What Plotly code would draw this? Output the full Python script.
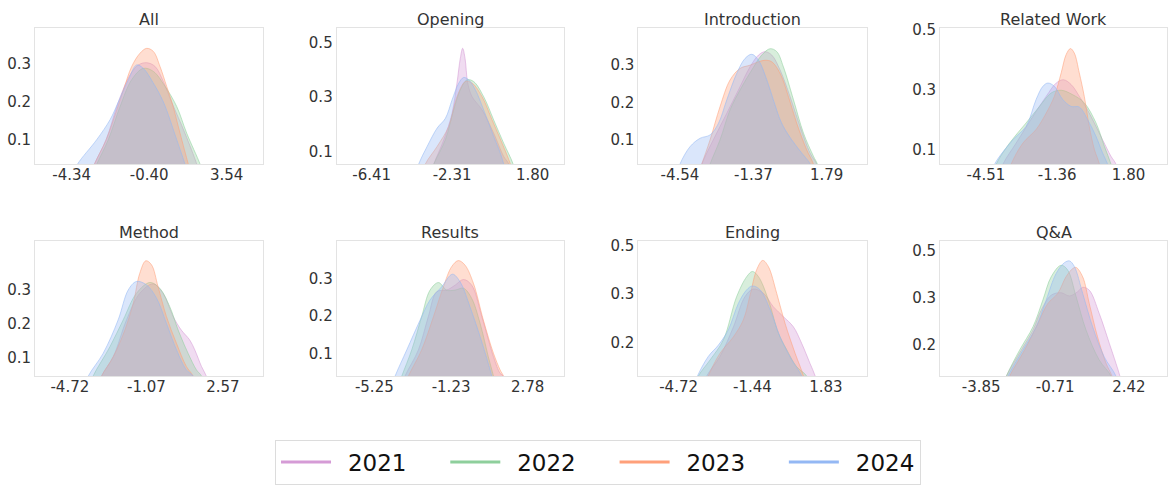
import plotly.graph_objects as go

# ---------------- data ----------------
years = ["2021", "2022", "2023", "2024"]
colors = ["#D59BD6", "#8ECF9C", "#FFA07A", "#94B8F4"]
titles = ["All", "Opening", "Introduction", "Related Work",
          "Method", "Results", "Ending", "Q&A"]

x_tickvals = [[-4.34, -0.40, 3.54], [-6.41, -2.31, 1.80], [-4.54, -1.37, 1.79], [-4.51, -1.36, 1.80],
              [-4.72, -1.07, 2.57], [-5.25, -1.23, 2.78], [-4.72, -1.44, 1.83], [-3.85, -0.71, 2.42]]
x_ticktext = [["-4.34", "-0.40", "3.54"], ["-6.41", "-2.31", "1.80"], ["-4.54", "-1.37", "1.79"],
              ["-4.51", "-1.36", "1.80"], ["-4.72", "-1.07", "2.57"], ["-5.25", "-1.23", "2.78"],
              ["-4.72", "-1.44", "1.83"], ["-3.85", "-0.71", "2.42"]]
x_ranges = [[-6.21, 5.39], [-8.19, 3.41], [-6.34, 3.52], [-6.54, 3.50],
            [-6.38, 4.48], [-7.22, 4.70], [-6.51, 3.64], [-5.60, 4.04]]
y_tickvals = [[0.1, 0.2, 0.3], [0.1, 0.3, 0.5], [0.1, 0.2, 0.3], [0.1, 0.3, 0.5],
              [0.1, 0.2, 0.3], [0.1, 0.2, 0.3], [0.18, 0.32, 0.46], [0.20, 0.33, 0.46]]
y_ticktext = [["0.1", "0.2", "0.3"], ["0.1", "0.3", "0.5"], ["0.1", "0.2", "0.3"], ["0.1", "0.3", "0.5"],
              ["0.1", "0.2", "0.3"], ["0.1", "0.2", "0.3"], ["0.2", "0.3", "0.5"], ["0.2", "0.3", "0.5"]]
y_ranges = [[0.0355, 0.396], [0.053, 0.556], [0.035, 0.3995], [0.052, 0.5056],
            [0.045, 0.443], [0.042, 0.3996], [0.0825, 0.474], [0.1125, 0.487]]

# density curves: (x values, density values) per year
all_curves = {
    "2021": ([-3.41, -3.19, -2.59, -1.97, -1.37, -0.95, -0.53, -0.10, 0.32, 0.74, 1.42, 2.02, 2.19],
             [0.003, 0.035, 0.100, 0.200, 0.272, 0.298, 0.304, 0.294, 0.254, 0.200, 0.117, 0.035, 0.003]),
    "2022": ([-3.32, -3.07, -2.48, -1.88, -1.29, -0.70, -0.19, 0.41, 1.00, 1.51, 2.19, 2.39],
             [0.003, 0.035, 0.100, 0.188, 0.259, 0.289, 0.281, 0.241, 0.188, 0.117, 0.035, 0.003]),
    "2023": ([-3.41, -3.19, -2.59, -2.05, -1.68, -1.29, -0.87, -0.53, -0.19, 0.15, 0.49, 0.75, 1.17, 1.59, 1.76],
             [0.003, 0.035, 0.100, 0.179, 0.237, 0.294, 0.329, 0.342, 0.334, 0.294, 0.241, 0.200, 0.117, 0.035, 0.003]),
    "2024": ([-4.34, -4.05, -3.07, -2.39, -1.97, -1.46, -1.04, -0.70, -0.19, 0.32, 1.00, 1.42, 1.59],
             [0.003, 0.035, 0.100, 0.153, 0.200, 0.259, 0.298, 0.289, 0.250, 0.200, 0.100, 0.035, 0.003]),
}
opening_curves = {
    "2021": ([-3.50, -3.24, -2.73, -2.31, -2.06, -1.89, -1.77, -1.65, -1.51, -1.29, -0.78, -0.19, 0.32, 0.58, 0.75],
             [-0.005, 0.053, 0.143, 0.241, 0.352, 0.444, 0.481, 0.444, 0.352, 0.302, 0.253, 0.167, 0.081, 0.053, -0.005]),
    "2022": ([-3.50, -3.24, -2.65, -2.23, -1.89, -1.55, -1.21, -0.70, -0.19, 0.32, 0.80, 1.00],
             [-0.005, 0.053, 0.143, 0.253, 0.327, 0.364, 0.358, 0.302, 0.216, 0.130, 0.053, -0.005]),
    "2023": ([-3.92, -3.67, -3.07, -2.48, -2.06, -1.63, -1.29, -0.78, -0.27, 0.24, 0.66, 0.87],
             [-0.005, 0.053, 0.118, 0.192, 0.302, 0.358, 0.352, 0.302, 0.216, 0.130, 0.053, -0.005]),
    "2024": ([-4.26, -4.01, -3.58, -3.07, -2.65, -2.31, -1.97, -1.72, -1.46, -1.12, -0.70, -0.19, 0.15, 0.32, 0.49],
             [-0.005, 0.053, 0.118, 0.186, 0.222, 0.290, 0.352, 0.373, 0.364, 0.327, 0.253, 0.155, 0.093, 0.053, -0.005]),
}
intro_curves = {
    "2021": ([-3.82, -3.60, -3.10, -2.52, -2.02, -1.51, -1.15, -0.87, -0.58, -0.22, 0.21, 0.64, 1.08, 1.36, 1.54],
             [-0.007, 0.035, 0.100, 0.171, 0.233, 0.296, 0.327, 0.336, 0.327, 0.287, 0.216, 0.136, 0.064, 0.035, -0.007]),
    "2022": ([-3.46, -3.24, -2.81, -2.38, -1.95, -1.44, -1.01, -0.65, -0.36, -0.08, 0.36, 0.79, 1.22, 1.39, 1.58],
             [-0.007, 0.035, 0.100, 0.180, 0.233, 0.287, 0.327, 0.344, 0.336, 0.296, 0.207, 0.118, 0.056, 0.035, -0.007]),
    "2023": ([-3.82, -3.60, -3.24, -2.81, -2.38, -1.95, -1.51, -1.15, -0.87, -0.58, -0.22, 0.14, 0.50, 0.93, 1.22, 1.39],
             [-0.007, 0.035, 0.100, 0.189, 0.260, 0.291, 0.300, 0.309, 0.313, 0.309, 0.278, 0.216, 0.144, 0.073, 0.035, -0.007]),
    "2024": ([-4.75, -4.54, -4.10, -3.67, -3.24, -2.88, -2.52, -2.09, -1.73, -1.44, -1.15, -0.79, -0.51, -0.15, 0.28, 0.72, 1.08, 1.29],
             [-0.007, 0.035, 0.082, 0.104, 0.113, 0.144, 0.207, 0.278, 0.318, 0.329, 0.313, 0.260, 0.207, 0.144, 0.100, 0.064, 0.035, -0.007]),
}
related_curves = {
    "2021": ([-3.97, -3.75, -3.17, -2.43, -1.84, -1.40, -1.08, -0.74, -0.38, 0.06, 0.65, 1.02, 1.24, 1.42],
             [0.000, 0.052, 0.122, 0.211, 0.278, 0.322, 0.333, 0.317, 0.278, 0.222, 0.133, 0.078, 0.052, 0.000]),
    "2022": ([-4.27, -4.05, -3.46, -2.73, -2.14, -1.62, -1.18, -0.67, -0.16, 0.36, 0.73, 1.02, 1.20],
             [0.000, 0.052, 0.122, 0.189, 0.244, 0.289, 0.298, 0.283, 0.256, 0.189, 0.111, 0.052, 0.000]),
    "2023": ([-3.61, -3.39, -2.87, -2.29, -1.84, -1.48, -1.18, -0.96, -0.77, -0.60, -0.38, -0.16, 0.06, 0.29, 0.51, 0.65],
             [0.000, 0.052, 0.122, 0.167, 0.222, 0.278, 0.356, 0.417, 0.437, 0.422, 0.356, 0.278, 0.178, 0.100, 0.052, 0.000]),
    "2024": ([-4.34, -4.12, -3.31, -2.73, -2.29, -1.99, -1.77, -1.48, -1.11, -0.74, -0.38, -0.01, 0.36, 0.65, 0.87, 1.05],
             [0.000, 0.052, 0.133, 0.178, 0.267, 0.311, 0.322, 0.311, 0.267, 0.244, 0.242, 0.200, 0.144, 0.089, 0.052, 0.000]),
}
method_curves = {
    "2021": ([-3.45, -3.21, -2.65, -2.02, -1.39, -0.75, -0.28, 0.20, 0.59, 0.99, 1.23, 1.55, 1.78, 1.97],
             [0.004, 0.045, 0.102, 0.210, 0.288, 0.316, 0.288, 0.220, 0.180, 0.151, 0.122, 0.073, 0.045, 0.004]),
    "2022": ([-3.85, -3.61, -2.81, -2.18, -1.55, -0.91, -0.44, 0.04, 0.44, 0.91, 1.31, 1.55, 1.74],
             [0.004, 0.045, 0.131, 0.210, 0.288, 0.320, 0.303, 0.249, 0.180, 0.112, 0.063, 0.045, 0.004]),
    "2023": ([-3.45, -3.21, -2.65, -2.10, -1.70, -1.39, -1.10, -0.83, -0.52, -0.12, 0.36, 0.83, 1.15, 1.34],
             [0.004, 0.045, 0.102, 0.180, 0.259, 0.347, 0.384, 0.372, 0.308, 0.220, 0.141, 0.073, 0.045, 0.004]),
    "2024": ([-4.08, -3.84, -3.13, -2.42, -1.94, -1.55, -1.07, -0.59, -0.12, 0.36, 0.83, 1.15, 1.34],
             [0.004, 0.045, 0.112, 0.210, 0.298, 0.323, 0.313, 0.274, 0.200, 0.122, 0.063, 0.045, 0.004]),
}
results_curves = {
    "2021": ([-3.90, -3.64, -2.94, -2.42, -1.98, -1.46, -1.02, -0.58, -0.15, 0.38, 0.99, 1.34, 1.51, 1.68],
             [0.005, 0.042, 0.111, 0.199, 0.265, 0.269, 0.282, 0.297, 0.282, 0.199, 0.093, 0.049, 0.042, 0.005]),
    "2022": ([-4.07, -3.81, -3.29, -2.77, -2.33, -1.89, -1.46, -1.02, -0.58, -0.15, 0.29, 0.72, 0.99, 1.16],
             [0.005, 0.042, 0.111, 0.199, 0.269, 0.289, 0.269, 0.269, 0.274, 0.247, 0.181, 0.093, 0.042, 0.005]),
    "2023": ([-3.73, -3.46, -2.77, -2.15, -1.63, -1.20, -0.85, -0.50, -0.06, 0.46, 0.99, 1.34, 1.51, 1.68],
             [0.005, 0.042, 0.111, 0.199, 0.278, 0.331, 0.347, 0.335, 0.287, 0.190, 0.102, 0.058, 0.042, 0.005]),
    "2024": ([-4.42, -4.16, -3.55, -2.85, -2.33, -1.72, -1.16, -0.76, -0.24, 0.29, 0.72, 0.90, 1.07],
             [0.005, 0.042, 0.111, 0.190, 0.243, 0.278, 0.311, 0.291, 0.225, 0.146, 0.075, 0.042, 0.005]),
}
ending_curves = {
    "2021": ([-3.69, -3.47, -2.88, -2.28, -1.77, -1.40, -0.95, -0.51, -0.06, 0.38, 0.75, 1.12, 1.35, 1.49],
             [0.042, 0.0825, 0.139, 0.225, 0.312, 0.334, 0.322, 0.283, 0.254, 0.225, 0.177, 0.119, 0.0825, 0.042]),
    "2022": ([-4.06, -3.84, -3.32, -2.73, -2.14, -1.69, -1.44, -1.17, -0.73, -0.28, 0.09, 0.53, 0.97, 1.15],
             [0.042, 0.0825, 0.129, 0.187, 0.312, 0.370, 0.385, 0.370, 0.303, 0.206, 0.158, 0.109, 0.0825, 0.042]),
    "2023": ([-3.62, -3.40, -2.88, -2.28, -1.84, -1.54, -1.25, -0.98, -0.73, -0.36, 0.01, 0.46, 0.83, 0.97],
             [0.042, 0.0825, 0.148, 0.196, 0.245, 0.317, 0.390, 0.417, 0.399, 0.322, 0.235, 0.148, 0.0825, 0.042]),
    "2024": ([-4.11, -3.88, -3.40, -2.95, -2.51, -2.06, -1.69, -1.44, -1.10, -0.65, -0.21, 0.31, 0.75, 0.90],
             [0.042, 0.0825, 0.139, 0.172, 0.216, 0.293, 0.332, 0.343, 0.332, 0.274, 0.196, 0.129, 0.0825, 0.042]),
}
qa_curves = {
    "2021": ([-2.99, -2.78, -2.15, -1.65, -1.30, -0.88, -0.46, -0.10, 0.25, 0.46, 0.74, 1.16, 1.59, 1.87, 2.04, 2.18],
             [0.074, 0.1125, 0.184, 0.240, 0.295, 0.336, 0.343, 0.334, 0.346, 0.358, 0.350, 0.286, 0.203, 0.148, 0.1125, 0.074]),
    "2022": ([-2.99, -2.78, -2.22, -1.65, -1.23, -0.88, -0.46, -0.18, 0.18, 0.60, 1.16, 1.66, 1.80],
             [0.074, 0.1125, 0.184, 0.249, 0.323, 0.387, 0.419, 0.406, 0.332, 0.240, 0.157, 0.1125, 0.074]),
    "2023": ([-2.85, -2.64, -2.01, -1.44, -1.02, -0.60, -0.25, 0.04, 0.18, 0.46, 0.74, 1.09, 1.45, 1.70, 1.84],
             [0.074, 0.1125, 0.184, 0.258, 0.313, 0.341, 0.387, 0.410, 0.413, 0.387, 0.313, 0.221, 0.148, 0.1125, 0.074]),
    "2024": ([-2.92, -2.71, -2.08, -1.51, -1.09, -0.67, -0.32, -0.10, 0.11, 0.46, 0.88, 1.37, 1.87, 2.01],
             [0.074, 0.1125, 0.184, 0.249, 0.323, 0.396, 0.426, 0.431, 0.415, 0.341, 0.249, 0.166, 0.1125, 0.074]),
}
panel_curves = [all_curves, opening_curves, intro_curves, related_curves,
                method_curves, results_curves, ending_curves, qa_curves]

# ---------------- layout geometry (pixels) ----------------
W, H = 1168, 485
col_px = [(35, 263), (336.7, 564.3), (638.3, 866.7), (940, 1167)]
row_px = [(28, 164), (240.7, 376)]
NBSP = "\u00a0"
THIN = "\u2009"


def rgba(hex_color, a):
    h = hex_color.lstrip("#")
    r, g, b = int(h[0:2], 16), int(h[2:4], 16), int(h[4:6], 16)
    return f"rgba({r},{g},{b},{a})"


fig = go.Figure()
annotations = []
layout_axes = {}
font_family = "DejaVu Sans"
text_color = "#333333"

for i in range(8):
    r, c = divmod(i, 4)
    n = i + 1
    xs = "" if n == 1 else str(n)
    x0, x1 = col_px[c]
    y0, y1 = row_px[r]
    xdom = [x0 / W, x1 / W]
    ydom = [1 - y1 / H, 1 - y0 / H]
    for yi, year in enumerate(years):
        xv, yv = panel_curves[i][year]
        fig.add_trace(go.Scatter(
            x=xv, y=yv, mode="lines", line=dict(color=rgba(colors[yi], 0.55), width=1, shape="spline", smoothing=1.0),
            fill="tozeroy", fillcolor=rgba(colors[yi], 0.35), showlegend=False, hoverinfo="skip",
            xaxis="x" + xs, yaxis="y" + xs))
    axis_common = dict(showgrid=False, zeroline=False, showline=True, mirror=True,
                       linecolor="#e3e3e3", linewidth=1, ticks="", automargin=False,
                       tickfont=dict(family=font_family, size=15, color=text_color))
    layout_axes["xaxis" + xs] = dict(axis_common, domain=xdom, anchor="y" + xs, range=x_ranges[i],
                                      tickmode="array", tickvals=x_tickvals[i], ticktext=x_ticktext[i],
                                      ticklabelstandoff=-3)
    layout_axes["yaxis" + xs] = dict(axis_common, domain=ydom, anchor="x" + xs, range=y_ranges[i],
                                      tickmode="array", tickvals=y_tickvals[i], ticktext=y_ticktext[i])
    annotations.append(dict(text=titles[i], x=(xdom[0] + xdom[1]) / 2, y=ydom[1], xref="paper", yref="paper",
                            xanchor="center", yanchor="bottom", yshift=-3, showarrow=False,
                            font=dict(family=font_family, size=16, color=text_color)))

for yi, year in enumerate(years):
    trailing = NBSP * 4 + THIN if yi < len(years) - 1 else ""
    fig.add_trace(go.Scatter(x=[None], y=[None], mode="lines", name=NBSP + THIN + year + trailing,
                             line=dict(color=colors[yi], width=3), showlegend=True))

fig.update_layout(
    width=W, height=H, margin=dict(l=0, r=0, t=0, b=0, autoexpand=False),
    paper_bgcolor="white", plot_bgcolor="white",
    annotations=annotations,
    showlegend=True,
    legend=dict(orientation="h", x=0.512, xanchor="center", y=0.001, yanchor="bottom",
                bordercolor="#dcdcdc", borderwidth=1, bgcolor="white",
                font=dict(family=font_family, size=23, color="#111111"),
                itemwidth=50),
    **layout_axes,
)

fig.write_html("out.html", config={"displayModeBar": False},
               post_script="document.body.style.margin='0px';document.body.style.padding='0px';")
